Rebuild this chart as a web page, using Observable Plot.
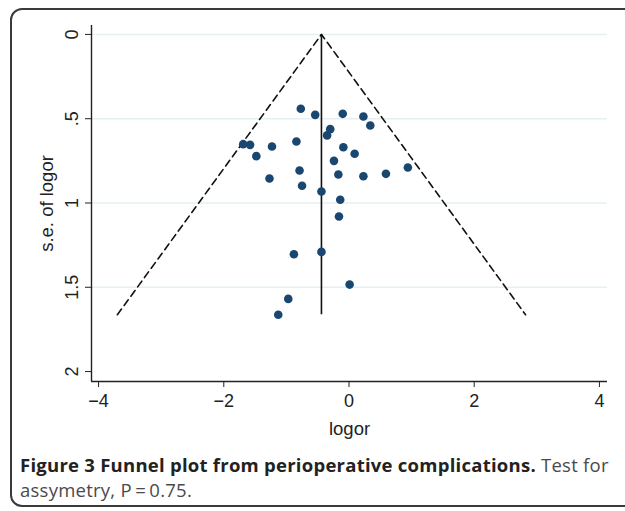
<!DOCTYPE html>
<html>
<head>
<meta charset="utf-8">
<script src="https://cdn.jsdelivr.net/npm/d3@7"></script>
<script src="https://cdn.jsdelivr.net/npm/@observablehq/plot@0.6"></script>
<style>
  html, body { margin: 0; padding: 0; background: #fff; }
  #wrap { position: relative; width: 625px; height: 511px; overflow: hidden; }
  #frame { position: absolute; left: 10px; top: 8px; width: 650px; height: 499px; box-sizing: border-box;
           border: 2px solid #3a3a3a; border-radius: 12px; }
  #chart { position: absolute; left: 0; top: 0; }
  .cap { position: absolute; left: 20px; width: 610px; height: 24px; font-family: "Open Sans", sans-serif;
         font-size: 18.5px; line-height: 24px; letter-spacing: 0.25px; color: #4a4a4a; white-space: nowrap; }
  .cap b { color: #222; font-weight: 700; }
</style>
</head>
<body>
<div id="wrap">
  <div id="frame"></div>
  <div id="chart"></div>
  <div class="cap" style="top:453px"><b>Figure 3 Funnel plot from perioperative complications.</b> Test for</div>
  <div class="cap" style="top:478px">assymetry, P&#8201;=&#8201;0.75.</div>
</div>
<script>
// Study estimates
const logor = [-0.77, -0.54, -0.10, 0.23, 0.34, -0.30, -0.35, -1.69, -1.58, -1.23,
               -0.84, -1.48, -0.09, 0.09, -0.24, 0.94, -0.79, -1.27, -0.17, 0.23,
               0.59, -0.75, -0.44, -0.14, -0.16, -0.88, -0.44, 0.01, -0.97, -1.13];
const se    = [0.441, 0.477, 0.471, 0.487, 0.540, 0.562, 0.599, 0.651, 0.655, 0.665,
               0.635, 0.722, 0.669, 0.708, 0.750, 0.789, 0.807, 0.855, 0.831, 0.841,
               0.827, 0.898, 0.932, 0.981, 1.080, 1.304, 1.290, 1.484, 1.569, 1.663];
// Pooled estimate and pseudo 95% limits
const pooled = -0.44;
const seMax = 1.663;
const funnelX = [-3.70, -0.44, 2.82];
const funnelY = [1.663, 0, 1.663];
// Axes
const xTicks = [-4, -2, 0, 2, 4];
const yTicks = [0, 0.5, 1, 1.5, 2];
const yTickLabels = ["0", ".5", "1", "1.5", "2"];
const gridTicks = [0, 0.5, 1, 1.5];

const points = logor.map((x, i) => ({logor: x, se: se[i]}));
const funnel = funnelX.map((x, i) => ({x, y: funnelY[i]}));
const xMin = -4.113, xMax = 4.129, yMin = -0.053, yMax = 2.059;

const fmt = d => d < 0 ? "\u2212" + Math.abs(d) : String(d);

const plot = Plot.plot({
  width: 625,
  height: 440,
  marginLeft: 91,
  marginRight: 18,
  marginTop: 25,
  marginBottom: 59,
  x: {domain: [xMin, xMax]},
  y: {domain: [yMin, yMax], reverse: true},
  style: {fontFamily: "'Liberation Sans', Arial, sans-serif", fontSize: "18px", color: "#222", background: "transparent", overflow: "visible"},
  marks: [
    Plot.ruleY(gridTicks, {x1: xMin, x2: xMax, stroke: "#e6eff1", strokeWidth: 1.4}),
    Plot.line(funnel, {x: "x", y: "y", stroke: "#111", strokeWidth: 1.6, strokeDasharray: "7,4.5"}),
    Plot.ruleX([pooled], {y1: 0, y2: seMax, stroke: "#111", strokeWidth: 1.6}),
    Plot.dot(points, {x: "logor", y: "se", r: 4.3, fill: "#1a476f", stroke: "none"}),
    Plot.ruleX([xMin], {y1: yMin, y2: yMax, stroke: "#222", strokeWidth: 1.4}),
    Plot.ruleY([yMax], {x1: xMin, x2: xMax, stroke: "#222", strokeWidth: 1.4}),
    Plot.axisX({ticks: xTicks, tickSize: 6, tickPadding: 7, tickFormat: fmt, label: null, fontSize: 18, stroke: "#222"}),
    Plot.axisY({ticks: yTicks, tickSize: 6, tickFormat: () => "", label: null, stroke: "#222"}),
    Plot.text(yTicks, {y: d => d, text: (d, i) => yTickLabels[i], frameAnchor: "left", dx: -19.5, rotate: -90,
                       textAnchor: "middle", lineAnchor: "middle", fontSize: 18, fill: "#222"}),
    Plot.text(["s.e. of logor"], {frameAnchor: "left", dx: -44, rotate: -90, textAnchor: "middle",
                       lineAnchor: "middle", fontSize: 18.5, fill: "#222"}),
    Plot.text(["logor"], {frameAnchor: "bottom", dy: 48, textAnchor: "middle", lineAnchor: "middle",
                       fontSize: 18.5, fill: "#222"})
  ]
});
document.getElementById("chart").appendChild(plot);
</script>
</body>
</html>
